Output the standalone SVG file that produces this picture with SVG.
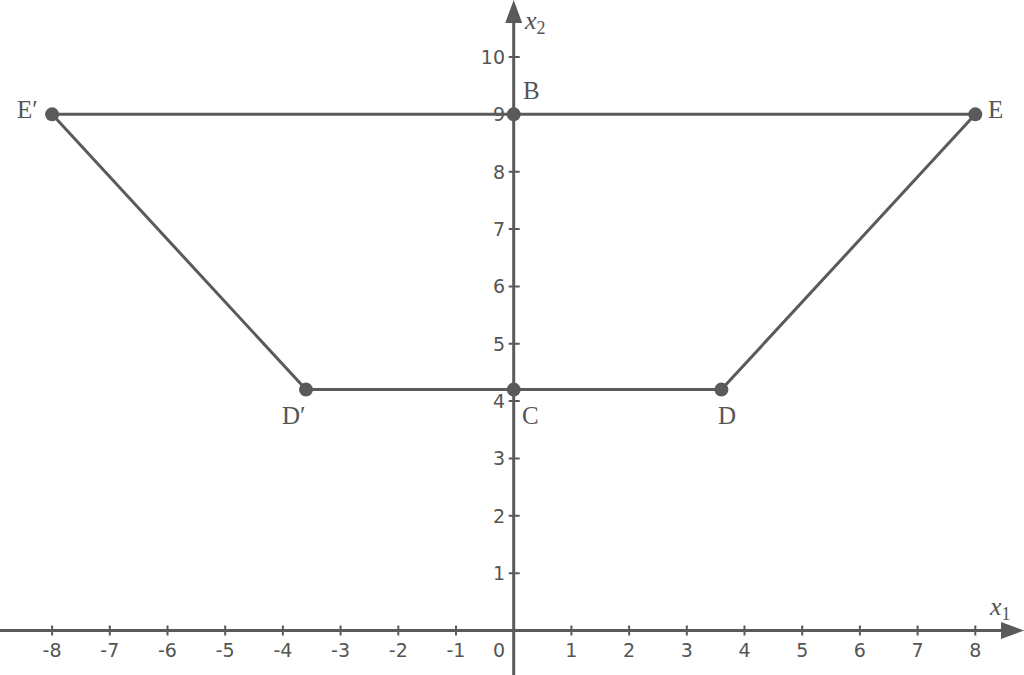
<svg xmlns="http://www.w3.org/2000/svg" width="1024" height="675" viewBox="0 0 1024 675">
<style>
.ax{stroke:#5a5a5a;stroke-width:3;fill:none}
.tk{stroke:#5a5a5a;stroke-width:2}
.ln{stroke:#5a5a5a;stroke-width:3;fill:none}
.pt{fill:#5a5a5a}
.tl{font-family:"DejaVu Sans",Verdana,sans-serif;font-size:19px;fill:#555}
.pl{font-family:"Liberation Serif","Times New Roman",serif;font-size:25px;fill:#555}
.al{font-family:"Liberation Serif","Times New Roman",serif;font-style:italic;font-size:26px;fill:#555}
.sub{font-style:normal;font-size:18px}
</style>
<rect width="1024" height="675" fill="#fff"/>
<g id="axes">
<line class="ax" x1="0" y1="630.5" x2="1005" y2="630.5"/>
<path class="pt" d="M1024 630.5 L1001 622 L1001 639 Z"/>
<line class="ax" x1="513.7" y1="675" x2="513.7" y2="20"/>
<path class="pt" d="M513.7 0 L505.2 23 L522.2 23 Z"/>
<g id="xticks">
<path class="tk" d="M52.1 625.5v10M109.8 625.5v10M167.5 625.5v10M225.2 625.5v10M282.9 625.5v10M340.6 625.5v10M398.3 625.5v10M456 625.5v10M571.4 625.5v10M629.1 625.5v10M686.8 625.5v10M744.5 625.5v10M802.2 625.5v10M859.9 625.5v10M917.6 625.5v10M975.3 625.5v10"/>
<g class="tl" text-anchor="middle">
<text x="52.1" y="657">-8</text><text x="109.8" y="657">-7</text><text x="167.5" y="657">-6</text><text x="225.2" y="657">-5</text><text x="282.9" y="657">-4</text><text x="340.6" y="657">-3</text><text x="398.3" y="657">-2</text><text x="456" y="657">-1</text><text x="499" y="657">0</text><text x="571.4" y="657">1</text><text x="629.1" y="657">2</text><text x="686.8" y="657">3</text><text x="744.5" y="657">4</text><text x="802.2" y="657">5</text><text x="859.9" y="657">6</text><text x="917.6" y="657">7</text><text x="975.3" y="657">8</text>
</g>
</g>
<g id="yticks">
<path class="tk" d="M508.7 573.15h11M508.7 515.8h11M508.7 458.45h11M508.7 401.1h11M508.7 343.75h11M508.7 286.4h11M508.7 229.05h11M508.7 171.7h11M508.7 114.35h11M508.7 57h11"/>
<g class="tl" text-anchor="end">
<text x="505" y="580">1</text><text x="505" y="522.7">2</text><text x="505" y="465.3">3</text><text x="505" y="408">4</text><text x="505" y="350.6">5</text><text x="505" y="293.3">6</text><text x="505" y="235.9">7</text><text x="505" y="178.6">8</text><text x="505" y="121.2">9</text><text x="505" y="63.9">10</text>
</g>
</g>
<text class="al" x="525" y="29">x<tspan class="sub" dy="5">2</tspan></text>
<text class="al" x="990" y="615">x<tspan class="sub" dy="5">1</tspan></text>
</g>
<g id="connectors">
<line class="ln" x1="52.1" y1="114.35" x2="975.3" y2="114.35"/>
<line class="ln" x1="52.1" y1="114.35" x2="306" y2="389.6"/>
<line class="ln" x1="306" y1="389.6" x2="721.4" y2="389.6"/>
<line class="ln" x1="721.4" y1="389.6" x2="975.3" y2="114.35"/>
</g>
<g id="E_prime"><circle class="pt" cx="52.1" cy="114.35" r="7"/><text class="pl" x="17" y="118">E′</text></g>
<g id="B"><circle class="pt" cx="513.7" cy="114.35" r="7"/><text class="pl" x="523" y="99">B</text></g>
<g id="E"><circle class="pt" cx="975.3" cy="114.35" r="7"/><text class="pl" x="988" y="118">E</text></g>
<g id="D_prime"><circle class="pt" cx="306" cy="389.6" r="7"/><text class="pl" x="282" y="424">D′</text></g>
<g id="C"><circle class="pt" cx="513.7" cy="389.6" r="7"/><text class="pl" x="522" y="424">C</text></g>
<g id="D"><circle class="pt" cx="721.4" cy="389.6" r="7"/><text class="pl" x="718" y="424">D</text></g>
</svg>
